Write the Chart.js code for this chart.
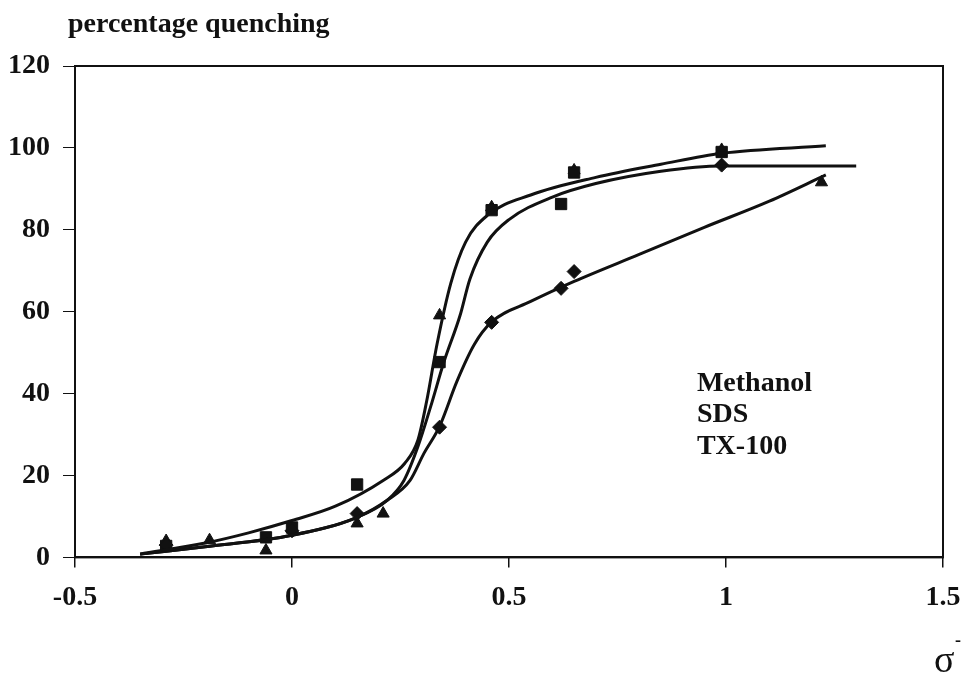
<!DOCTYPE html>
<html>
<head>
<meta charset="utf-8">
<script src="https://cdn.jsdelivr.net/npm/chart.js@4.4.1/dist/chart.umd.min.js"></script>
<style>
    body { margin: 0; background: #fff; }
    #wrap { width: 962px; height: 678px; }
</style>
</head>
<body>
<div id="wrap"><canvas id="quenchChart"></canvas></div>
<script>
const seriesNames = ['Methanol', 'SDS', 'TX-100'];

const methanolX = [-0.29, 0, 0.15, 0.34, 0.46, 0.62, 0.65, 0.99];
const methanolY = [3, 6.5, 10.7, 31.8, 57.4, 65.7, 69.8, 95.8];

const sdsX = [-0.29, -0.06, 0, 0.15, 0.34, 0.46, 0.62, 0.65, 0.99];
const sdsY = [2.8, 4.9, 7.3, 17.8, 47.7, 84.8, 86.3, 94, 99];

const tx100X = [-0.29, -0.19, -0.06, 0.15, 0.21, 0.34, 0.46, 0.65, 0.99, 1.22];
const tx100Y = [4, 4.2, 1.7, 8.3, 10.7, 59.1, 85.5, 94.5, 99.5, 91.6];

// Fitted curves
const fitAX = [-0.35, -0.2, -0.1, 0, 0.1, 0.21, 0.26, 0.29, 0.31, 0.334, 0.366, 0.40, 0.45, 0.55, 0.7, 0.85, 0.99, 1.23];
const fitAY = [0.8, 3.5, 6, 9, 12.5, 18.8, 23, 28.6, 38, 52, 67, 77, 83.5, 88.5, 92.8, 96, 98.7, 100.5];

const fitBX = [-0.35, -0.2, 0, 0.15, 0.22, 0.258, 0.29, 0.32, 0.35, 0.387, 0.41, 0.45, 0.5, 0.6, 0.7, 0.85, 0.99, 1.3];
const fitBY = [0.8, 2.6, 5.4, 9.8, 14, 18.8, 27, 37, 47.7, 59, 68, 77, 82.5, 88, 91.3, 94.3, 95.6, 95.6];

const fitCX = [-0.35, -0.2, 0, 0.15, 0.22, 0.272, 0.304, 0.34, 0.38, 0.42, 0.46, 0.55, 0.65, 0.8, 0.95, 1.1, 1.23];
const fitCY = [0.8, 2.6, 5.4, 9.8, 14, 18.8, 25.4, 32, 43, 52, 57.5, 62.5, 67.4, 74, 80.6, 87, 93.4];

// Axis ticks
const xTicks = [-0.5, 0, 0.5, 1, 1.5];
const yTicks = [0, 20, 40, 60, 80, 100, 120];

const serif = '"Liberation Serif", "Times New Roman", serif';

function toPoints(xs, ys) {
    return xs.map((x, i) => ({ x: x, y: ys[i] }));
}

function curveDataset(xs, ys) {
    return {
        data: toPoints(xs, ys),
        showLine: true,
        borderColor: '#111',
        borderWidth: 3,
        pointRadius: 0,
        cubicInterpolationMode: 'monotone',
        fill: false
    };
}

function markerDataset(label, xs, ys, style, radius) {
    return {
        label: label,
        data: toPoints(xs, ys),
        showLine: false,
        pointStyle: style,
        pointRadius: radius,
        backgroundColor: '#111',
        borderColor: '#111',
        borderWidth: 1
    };
}

// Frame round the plot area, the title, the plain text legend and the sigma label
const framePlugin = {
    id: 'frame',
    afterDraw(chart) {
        const { ctx, chartArea, scales } = chart;
        ctx.save();
        ctx.strokeStyle = '#111';
        ctx.lineWidth = 2;
        ctx.strokeRect(chartArea.left, chartArea.top, chartArea.right - chartArea.left, chartArea.bottom - chartArea.top);

        ctx.fillStyle = '#111';
        ctx.textBaseline = 'middle';
        ctx.textAlign = 'left';
        ctx.font = 'bold 28px ' + serif;
        ctx.fillText('percentage quenching', 68, 25);

        const lx = scales.x.getPixelForValue(0.933);
        const ly = scales.y.getPixelForValue(42.5);
        seriesNames.forEach((name, i) => {
            ctx.fillText(name, lx, ly + i * 31.5);
        });

        ctx.font = '38px ' + serif;
        ctx.fillText('σ', 934, 662);
        ctx.font = 'bold 18px ' + serif;
        ctx.fillText('-', 955, 641);
        ctx.restore();
    }
};

new Chart(document.getElementById('quenchChart').getContext('2d'), {
    type: 'scatter',
    data: {
        datasets: [
            curveDataset(fitAX, fitAY),
            curveDataset(fitBX, fitBY),
            curveDataset(fitCX, fitCY),
            markerDataset(seriesNames[0], methanolX, methanolY, 'rectRot', 7),
            markerDataset(seriesNames[1], sdsX, sdsY, 'rect', 8),
            markerDataset(seriesNames[2], tx100X, tx100Y, 'triangle', 7)
        ]
    },
    options: {
        responsive: true,
        maintainAspectRatio: false,
        animation: false,
        layout: {
            padding: { left: -5, right: 0, top: 66, bottom: 49 }
        },
        scales: {
            x: {
                min: -0.5,
                max: 1.5,
                afterBuildTicks: axis => { axis.ticks = xTicks.map(v => ({ value: v })); },
                // let the last tick label run into the right margin as in the original
                afterFit: axis => { axis.paddingRight = 19; },
                grid: { drawOnChartArea: false, drawTicks: true, tickLength: 10, color: '#111', lineWidth: 1.5 },
                border: { color: '#111', width: 2 },
                ticks: {
                    color: '#111',
                    padding: 14,
                    font: { family: serif, size: 28, weight: 'bold' },
                    callback: v => String(v)
                }
            },
            y: {
                min: 0,
                max: 120,
                afterBuildTicks: axis => { axis.ticks = yTicks.map(v => ({ value: v })); },
                grid: { drawOnChartArea: false, drawTicks: true, tickLength: 12, color: '#111', lineWidth: 1 },
                border: { color: '#111', width: 2 },
                ticks: {
                    color: '#111',
                    padding: 13,
                    font: { family: serif, size: 28, weight: 'bold' }
                }
            }
        },
        plugins: {
            legend: { display: false },
            tooltip: { enabled: false },
            title: { display: false }
        }
    },
    plugins: [framePlugin]
});
</script>
</body>
</html>
